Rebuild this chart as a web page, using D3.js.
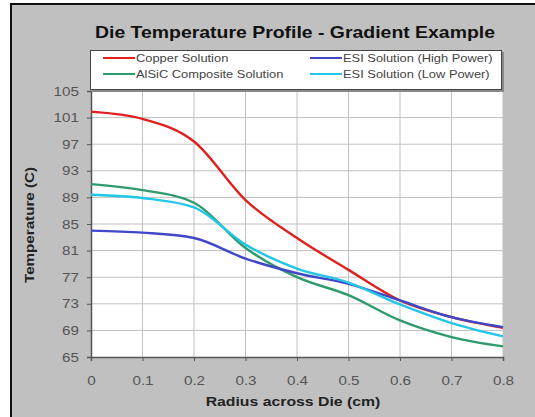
<!DOCTYPE html>
<html><head><meta charset="utf-8">
<script src="https://cdn.jsdelivr.net/npm/d3@7"></script>
<style>html,body{margin:0;padding:0;background:#fff;}svg{display:block;font-family:Arial,"Liberation Sans",sans-serif;}</style>
</head><body>
<script>
const radius = [0, 0.1, 0.2, 0.3, 0.4, 0.5, 0.6, 0.7, 0.8];
const copper = [101.9, 100.8, 97.4, 88.6, 82.9, 78.1, 73.5, 71.0, 69.4];
const alsic = [91.0, 90.1, 88.2, 81.4, 77.0, 74.3, 70.5, 68.0, 66.6];
const esiHigh = [84.0, 83.7, 82.9, 79.8, 77.6, 76.0, 73.5, 71.0, 69.5];
const esiLow = [89.4, 88.9, 87.5, 81.9, 78.3, 76.2, 72.9, 70.1, 68.1];
const seriesNames = ["Copper Solution", "AlSiC Composite Solution", "ESI Solution (High Power)", "ESI Solution (Low Power)"];
const seriesColors = ["#e0201e", "#2f9a6c", "#4048c8", "#22c6e6"];
const yTicks = [65, 69, 73, 77, 81, 85, 89, 93, 97, 101, 105];
const xTicks = [0, 0.1, 0.2, 0.3, 0.4, 0.5, 0.6, 0.7, 0.8];

const W = 535, H = 417;
const svg = d3.select("body").append("svg").attr("width", W).attr("height", H);
svg.append("rect").attr("x", 0).attr("y", 0).attr("width", W).attr("height", H).attr("fill", "#fff");
svg.append("rect").attr("x", 10).attr("y", 3).attr("width", W).attr("height", H).attr("fill", "#c0c0c0");
svg.append("rect").attr("x", 10).attr("y", 3).attr("width", 2).attr("height", H).attr("fill", "#111");
svg.append("rect").attr("x", 10).attr("y", 3).attr("width", W).attr("height", 2).attr("fill", "#111");

function stretch(sel, f) {
  sel.each(function () {
    const L = this.getComputedTextLength();
    d3.select(this).attr("textLength", L * f).attr("lengthAdjust", "spacingAndGlyphs");
  });
}
const SX = 1.17;

const x = d3.scaleLinear().domain([0, 0.8]).range([91, 503]);
const y = d3.scaleLinear().domain([65, 105]).range([357, 91]);

// plot area
svg.append("rect").attr("x", x(0)).attr("y", y(105)).attr("width", x(0.8) - x(0)).attr("height", y(65) - y(105)).attr("fill", "#fff");
const g = svg.append("g");
g.selectAll("line.vg").data(xTicks.slice(1)).join("line")
  .attr("x1", d => x(d)).attr("x2", d => x(d)).attr("y1", y(105)).attr("y2", y(65))
  .attr("stroke", "#c0c0c0").attr("stroke-width", 1);
g.selectAll("line.hg").data(yTicks.slice(1)).join("line")
  .attr("x1", x(0)).attr("x2", x(0.8)).attr("y1", d => y(d)).attr("y2", d => y(d))
  .attr("stroke", "#c0c0c0").attr("stroke-width", 1);

// axes
const yAxis = d3.axisLeft(y).tickValues(yTicks).tickSize(4).tickPadding(8).tickFormat(d3.format("d"));
const xAxis = d3.axisBottom(x).tickValues(xTicks).tickSize(4).tickPadding(15).tickFormat(d => d === 0 ? "0" : d3.format(".1f")(d));
const ya = svg.append("g").attr("transform", `translate(${x(0)},0)`).call(yAxis);
const xa = svg.append("g").attr("transform", `translate(0,${y(65)})`).call(xAxis);
[ya, xa].forEach(a => {
  a.select(".domain").attr("stroke", "#555").attr("stroke-width", 1.5);
  a.selectAll(".tick line").attr("stroke", "#555");
  a.selectAll(".tick text").attr("fill", "#555").attr("font-size", 13).attr("font-family", "Arial, 'Liberation Sans', sans-serif");
  stretch(a.selectAll(".tick text"), SX);
});

// lines
const allSeries = [copper, alsic, esiHigh, esiLow];
const line = d3.line().x((d, i) => x(radius[i])).y(d => y(d)).curve(d3.curveMonotoneX);
svg.append("g").selectAll("path").data(allSeries).join("path")
  .attr("d", d => line(d)).attr("fill", "none")
  .attr("stroke", (d, i) => seriesColors[i]).attr("stroke-width", 2.4)
  .attr("stroke-linejoin", "round");

// title
const title = svg.append("text").attr("x", 295).attr("y", 38).attr("text-anchor", "middle")
  .attr("font-size", 16.5).attr("font-weight", "bold").attr("fill", "#111")
  .text("Die Temperature Profile - Gradient Example");
title.attr("textLength", 400).attr("lengthAdjust", "spacingAndGlyphs");

// legend
svg.append("rect").attr("x", 92).attr("y", 52).attr("width", 412).attr("height", 40).attr("fill", "#8a8a8a");
svg.append("rect").attr("x", 90.5).attr("y", 50.5).attr("width", 411).attr("height", 39).attr("fill", "#fff").attr("stroke", "#444");
const legPos = [[103, 58], [103, 74], [310, 58], [310, 74]];
const lg = svg.append("g").selectAll("g").data(seriesNames).join("g")
  .attr("transform", (d, i) => `translate(${legPos[i][0]},${legPos[i][1]})`);
lg.append("line").attr("x1", 0).attr("x2", 32).attr("y1", 0).attr("y2", 0)
  .attr("stroke", (d, i) => seriesColors[i]).attr("stroke-width", 2);
const lt = lg.append("text").attr("x", 33).attr("y", 4).attr("font-size", 11).attr("fill", "#444").text(d => d);
stretch(lt, SX);

// axis titles
const xt = svg.append("text").attr("x", 293).attr("y", 406).attr("text-anchor", "middle")
  .attr("font-size", 13.5).attr("font-weight", "bold").attr("fill", "#222").text("Radius across Die (cm)");
stretch(xt, SX);
svg.append("text").attr("transform", "translate(34,225) rotate(-90)").attr("text-anchor", "middle")
  .attr("font-size", 13.5).attr("font-weight", "bold").attr("fill", "#222").text("Temperature (C)")
  .attr("textLength", 116).attr("lengthAdjust", "spacingAndGlyphs");
</script>
</body></html>
